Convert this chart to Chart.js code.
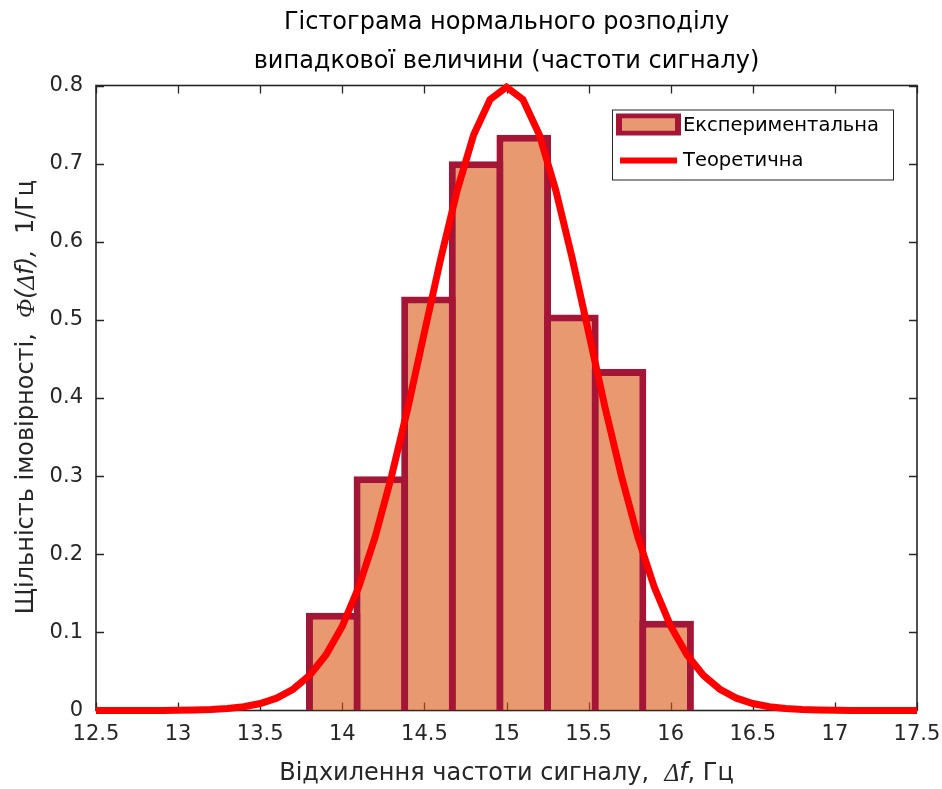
<!DOCTYPE html>
<html>
<head>
<meta charset="utf-8">
<script src="https://cdn.jsdelivr.net/npm/chart.js@4/dist/chart.umd.min.js"></script>
<style>
  html, body { margin: 0; padding: 0; background: #fff; }
  #wrap { width: 942px; height: 789px; }
</style>
</head>
<body>
<div id="wrap"><canvas id="hist" width="942" height="789"></canvas></div>
<script>
// --- data ---
const BIN_CENTERS = [13.945, 14.235, 14.525, 14.815, 15.105, 15.395, 15.685, 15.975]
const BIN_DENSITY = [0.125, 0.30, 0.53, 0.703, 0.737, 0.507, 0.437, 0.115]

const CURVE_X = [
  12.5, 12.6, 12.7, 12.8, 12.9, 13.0, 13.1, 13.2, 13.3, 13.4,
  13.5, 13.6, 13.7, 13.8, 13.9, 14.0, 14.1, 14.2, 14.3, 14.4,
  14.5, 14.6, 14.7, 14.8, 14.9, 15.0, 15.1, 15.2, 15.3, 15.4,
  15.5, 15.6, 15.7, 15.8, 15.9, 16.0, 16.1, 16.2, 16.3, 16.4,
  16.5, 16.6, 16.7, 16.8, 16.9, 17.0, 17.1, 17.2, 17.3, 17.4, 17.5,
]
const CURVE_Y = [
  0.0000, 0.0000, 0.0000, 0.0001, 0.0001, 0.0003, 0.0006, 0.0012, 0.0025, 0.0048,
  0.0089, 0.0158, 0.0272, 0.0448, 0.0710, 0.108, 0.158, 0.222, 0.300, 0.388,
  0.484, 0.579, 0.666, 0.737, 0.782, 0.798, 0.782, 0.737, 0.666, 0.579,
  0.484, 0.388, 0.300, 0.222, 0.158, 0.108, 0.0710, 0.0448, 0.0272, 0.0158,
  0.0089, 0.0048, 0.0025, 0.0012, 0.0006, 0.0003, 0.0001, 0.0001, 0.0000, 0.0000, 0.0000,
]

const TITLE_LINES = ['Гістограма нормального розподілу', 'випадкової величини (частоти сигналу)']
const LABELS = { bars: 'Експериментальна', curve: 'Теоретична' }

const COLORS = {
  barFill: 'rgba(217,85,15,0.6)',   // semi-transparent face, ticks show through
  barEdge: '#A51535',
  curve:   '#FF0000',
  axis:    '#262626',
}

const FONT = '"DejaVu Sans", Arial, sans-serif'
const SERIF = '"Liberation Serif", "DejaVu Serif", serif'
const EDGE = 7   // bar outline width

Chart.defaults.font.family = FONT
Chart.defaults.color = COLORS.axis

// draw a run of text pieces with different fonts, centred on (x, y)
function drawRun(ctx, parts, x, y) {
  let total = 0
  parts.forEach(p => { ctx.font = p.font; p.w = ctx.measureText(p.t).width; total += p.w })
  let cx = x - total / 2
  ctx.textAlign = 'left'
  ctx.textBaseline = 'middle'
  parts.forEach(p => { ctx.font = p.font; ctx.fillText(p.t, cx, y); cx += p.w })
}

// axes box, inward ticks on all four sides, title and axis titles
const decor = {
  id: 'decor',
  beforeDatasetsDraw(chart) {
    const { ctx, chartArea: a, scales: { x, y } } = chart
    ctx.save()
    ctx.strokeStyle = COLORS.axis
    ctx.lineWidth = 1.3
    ctx.beginPath()
    x.ticks.forEach(t => {
      const px = Math.round(x.getPixelForValue(t.value)) + 0.5
      ctx.moveTo(px, a.bottom); ctx.lineTo(px, a.bottom - 8)
      ctx.moveTo(px, a.top);    ctx.lineTo(px, a.top + 8)
    })
    y.ticks.forEach(t => {
      const py = Math.round(y.getPixelForValue(t.value)) + 0.5
      ctx.moveTo(a.left, py);  ctx.lineTo(a.left + 8, py)
      ctx.moveTo(a.right, py); ctx.lineTo(a.right - 8, py)
    })
    ctx.stroke()
    ctx.lineWidth = 1.6
    ctx.strokeRect(a.left, a.top, a.right - a.left, a.bottom - a.top)

    ctx.fillStyle = '#000'
    const cx = (a.left + a.right) / 2
    ctx.font = '24px ' + FONT
    ctx.textAlign = 'center'
    ctx.textBaseline = 'middle'
    ctx.fillText(TITLE_LINES[0], cx, 23)
    ctx.fillText(TITLE_LINES[1], cx, 62)

    ctx.fillStyle = COLORS.axis
    drawRun(ctx, [
      { t: 'Відхилення частоти сигналу,  ', font: '24px ' + FONT },
      { t: 'Δ', font: 'italic 25px ' + SERIF },
      { t: 'f', font: 'italic 24px ' + FONT },
      { t: ', Гц', font: '24px ' + FONT },
    ], cx, 774)

    ctx.translate(27, (a.top + a.bottom) / 2 - 1)
    ctx.rotate(-Math.PI / 2)
    drawRun(ctx, [
      { t: 'Щільність імовірності,  ', font: '24px ' + FONT },
      { t: 'Φ', font: 'italic 25px ' + SERIF },
      { t: '(', font: 'italic 24px ' + FONT },
      { t: 'Δ', font: 'italic 25px ' + SERIF },
      { t: 'f),', font: 'italic 24px ' + FONT },
      { t: '  1/Гц', font: '24px ' + FONT },
    ], 0, 0)
    ctx.restore()
  },
  afterDraw(chart) {
    // legend box in the top right corner of the axes
    const { ctx, chartArea: a } = chart
    const bars = chart.data.datasets[1]
    const line = chart.data.datasets[0]
    const bx = a.right - 305, by = a.top + 24, bw = 281, bh = 70
    ctx.save()
    ctx.fillStyle = '#fff'
    ctx.fillRect(bx, by, bw, bh)
    ctx.strokeStyle = COLORS.axis
    ctx.lineWidth = 1
    ctx.strokeRect(bx + 0.5, by + 0.5, bw, bh)

    ctx.fillStyle = bars.borderColor
    ctx.fillRect(bx + 4, by + 4, 65, 22)
    ctx.fillStyle = '#fff'
    ctx.fillRect(bx + 10, by + 9, 53, 12)
    ctx.fillStyle = bars.backgroundColor
    ctx.fillRect(bx + 10, by + 9, 53, 12)

    ctx.strokeStyle = line.borderColor
    ctx.lineWidth = 6
    ctx.beginPath()
    ctx.moveTo(bx + 8, by + 51); ctx.lineTo(bx + 65, by + 51)
    ctx.stroke()

    ctx.fillStyle = '#000'
    ctx.font = '19.5px ' + FONT
    ctx.textAlign = 'left'
    ctx.textBaseline = 'middle'
    ctx.fillText(bars.label, bx + 71, by + 16)
    ctx.fillText(line.label, bx + 71, by + 51)
    ctx.restore()
  },
}

new Chart(document.getElementById('hist'), {
  type: 'bar',
  data: {
    datasets: [
      {
        type: 'line',
        label: LABELS.curve,
        data: CURVE_X.map((v, i) => ({ x: v, y: CURVE_Y[i] })),
        borderColor: COLORS.curve,
        borderWidth: 7,
        pointRadius: 0,
        tension: 0,
        clip: false,
        order: 0,
      },
      {
        type: 'bar',
        label: LABELS.bars,
        data: BIN_CENTERS.map((v, i) => ({ x: v, y: BIN_DENSITY[i] })),
        backgroundColor: COLORS.barFill,
        borderColor: COLORS.barEdge,
        borderWidth: EDGE,
        inflateAmount: 0,
        // widen each bar by one outline so neighbouring outlines coincide
        barPercentage: 1.147,
        categoryPercentage: 1,
        order: 1,
      },
    ],
  },
  options: {
    responsive: false,
    animation: false,
    events: [],
    layout: { padding: { top: 85.5, right: 25, bottom: 0, left: 0 } },
    plugins: {
      legend: { display: false },
      title: { display: false },
      tooltip: { enabled: false },
    },
    scales: {
      x: {
        type: 'linear',
        offset: false,
        min: 12.5,
        max: 17.5,
        grid: { display: false, drawTicks: false },
        border: { display: false },
        ticks: {
          stepSize: 0.5,
          padding: 11,
          color: COLORS.axis,
          font: { size: 21 },
          maxRotation: 0,
          autoSkip: false,
          callback: v => String(+v.toFixed(2)),
        },
        afterFit: s => { s.height = 78.5; s.paddingLeft = 0; s.paddingRight = 0 },
      },
      y: {
        min: 0,
        max: 0.8,
        grid: { display: false, drawTicks: false },
        border: { display: false },
        ticks: {
          stepSize: 0.1,
          padding: 13,
          color: COLORS.axis,
          font: { size: 21 },
          callback: v => String(+v.toFixed(2)),
        },
        afterFit: s => { s.width = 96; s.paddingTop = 0; s.paddingBottom = 0 },
      },
    },
  },
  plugins: [decor],
})
</script>
</body>
</html>
